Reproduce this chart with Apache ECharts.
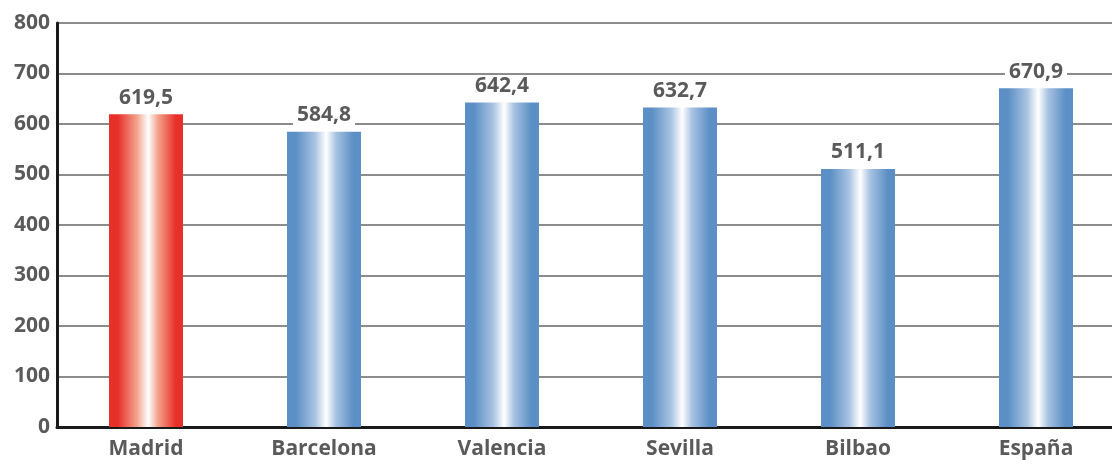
<!DOCTYPE html>
<html>
<head>
<meta charset="utf-8">
<script src="https://cdn.jsdelivr.net/npm/echarts@6/dist/echarts.min.js"></script>
<style>
  html, body { margin: 0; padding: 0; background: #fff; overflow: hidden; }
  #chart { width: 1125px; height: 466px; }
</style>
</head>
<body>
<div id="chart"></div>
<script>
// Ciudades y valores
const categories = ['Madrid', 'Barcelona', 'Valencia', 'Sevilla', 'Bilbao', 'España'];
const values = [619.5, 584.8, 642.4, 632.7, 511.1, 670.9];
const highlighted = ['Madrid'];

const textColor = '#5a5a5a';
const fontFamily = '"Open Sans", Lato, sans-serif';

// Cylinder-like horizontal shading: saturated edges, white core
function barGradient(edge, mid) {
  return new echarts.graphic.LinearGradient(0, 0, 1, 0, [
    { offset: 0, color: edge },
    { offset: 0.12, color: edge },
    { offset: 0.38, color: mid },
    { offset: 0.53, color: '#ffffff' },
    { offset: 0.66, color: mid },
    { offset: 0.9, color: edge },
    { offset: 1, color: edge }
  ]);
}
const redFill = barGradient('#e8302a', '#f3a48e');
const blueFill = barGradient('#5b8fc5', '#a9c3e2');

const chart = echarts.init(document.getElementById('chart'));
chart.setOption({
  animation: false,
  grid: { left: 57, right: 0, top: 23, bottom: 39, containLabel: false },
  xAxis: {
    type: 'category',
    data: categories,
    axisLine: { lineStyle: { color: '#1a1a1a', width: 3 } },
    axisTick: { show: false },
    axisLabel: { color: textColor, fontFamily, fontWeight: 'bold', fontSize: 21, margin: 12 }
  },
  yAxis: {
    type: 'value',
    min: 0, max: 800, interval: 100,
    axisLine: { show: true, lineStyle: { color: '#1a1a1a', width: 3 } },
    axisTick: { show: false },
    axisLabel: { color: textColor, fontFamily, fontWeight: 'bold', fontSize: 21, margin: 7 },
    splitLine: { lineStyle: { color: '#8c8c8c', width: 2 } }
  },
  series: [{
    type: 'bar',
    barWidth: 74,
    data: values.map((v, i) => ({
      value: v,
      itemStyle: { color: highlighted.includes(categories[i]) ? redFill : blueFill }
    })),
    label: {
      show: true,
      position: 'top',
      distance: 6,
      color: textColor,
      fontFamily,
      fontWeight: 'bold',
      fontSize: 21,
      backgroundColor: '#fff',
      padding: [0, 4],
      formatter: p => p.value.toFixed(1).replace('.', ',')
    }
  }]
});
</script>
</body>
</html>
